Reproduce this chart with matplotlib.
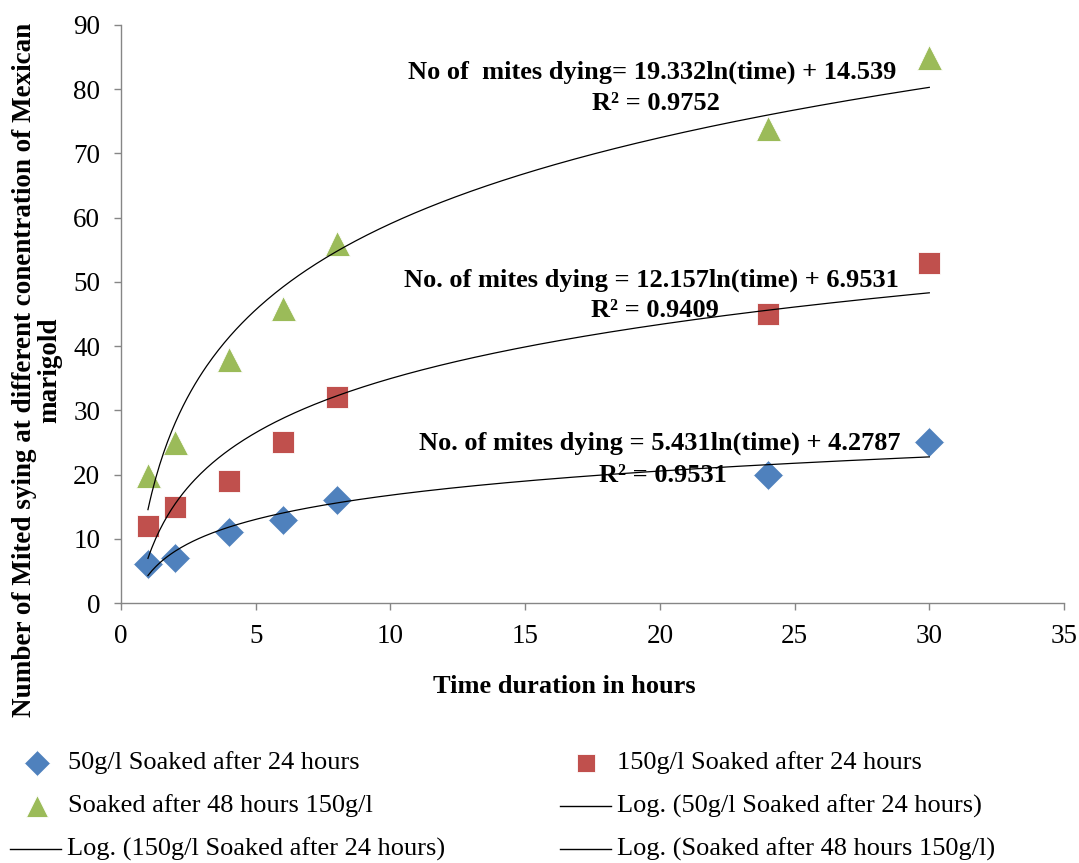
import numpy as np
import matplotlib
matplotlib.use("Agg")
import matplotlib.pyplot as plt
from matplotlib.lines import Line2D

# ---- data -------------------------------------------------------------
hours = [1, 2, 4, 6, 8, 24, 30]
soak50_24h = [6, 7, 11, 13, 16, 20, 25]
soak150_24h = [12, 15, 19, 25, 32, 45, 53]
soak150_48h = [20, 25, 38, 46, 56, 74, 85]

# logarithmic trend coefficients: y = a*ln(x) + b
fit50_24h = (5.431, 4.2787)
fit150_24h = (12.157, 6.9531)
fit150_48h = (19.332, 14.539)

r2_labels = ["R\u00b2 = 0.9531", "R\u00b2 = 0.9409", "R\u00b2 = 0.9752"]
eq_labels = [
    "No. of mites dying = 5.431ln(time) + 4.2787",
    "No. of mites dying = 12.157ln(time) + 6.9531",
    "No of  mites dying= 19.332ln(time) + 14.539",
]
series_names = [
    "50g/l Soaked after 24 hours",
    "150g/l Soaked after 24 hours",
    "Soaked after 48 hours 150g/l",
]
x_ticks = [0, 5, 10, 15, 20, 25, 30, 35]
y_ticks = [0, 10, 20, 30, 40, 50, 60, 70, 80, 90]

# ---- styling ----------------------------------------------------------
SERIF = "Liberation Serif"
W, H = 1079, 863
GRAY = "#868686"

styles = [
    dict(marker="D", color="#4F81BD", ms=15),
    dict(marker="s", color="#C0504D", ms=16),
    dict(marker="^", color="#9BBB59", ms=18),
]

fig = plt.figure(figsize=(W / 100, H / 100), dpi=100)
ax = fig.add_axes([121 / W, 1 - 603 / H, (1064 - 121) / W, (603 - 25) / H])

series = [soak50_24h, soak150_24h, soak150_48h]
fits = [fit50_24h, fit150_24h, fit150_48h]

# scatter points
for vals, st in zip(series, styles):
    ax.plot(hours, vals, linestyle="none", marker=st["marker"],
            markersize=st["ms"], markerfacecolor=st["color"],
            markeredgecolor="white", markeredgewidth=0.6, zorder=3)

# logarithmic trend lines
xs = np.linspace(min(hours), max(hours), 400)
for a, b in fits:
    ax.plot(xs, a * np.log(xs) + b, color="black", lw=0.9, zorder=4)

# equation annotations (data coordinates)
eq_pos = [((20.0, 24.9), (20.1, 19.9)),
          ((19.7, 50.3), (19.8, 45.6)),
          ((19.7, 82.7), (19.85, 77.7))]
for (pe, pr), eq, r2 in zip(eq_pos, eq_labels, r2_labels):
    ax.text(*pe, eq, ha="center", va="center", fontsize=19,
            fontweight="bold", family=SERIF, zorder=2)
    ax.text(*pr, r2, ha="center", va="center", fontsize=19,
            fontweight="bold", family=SERIF, zorder=2)

# axes appearance
ax.set_xlim(0, 35)
ax.set_ylim(0, 90)
ax.set_xticks(x_ticks)
ax.set_yticks(y_ticks)
for s in ("top", "right"):
    ax.spines[s].set_visible(False)
for s in ("left", "bottom"):
    ax.spines[s].set_color(GRAY)
    ax.spines[s].set_linewidth(1.0)
ax.tick_params(direction="out", length=5, width=1.0, color=GRAY,
               labelsize=19.5, pad=10)
for lab in ax.get_xticklabels() + ax.get_yticklabels():
    lab.set_family(SERIF)
ax.patch.set_alpha(0)

# axis titles
fig.text(564 / W, 1 - 686 / H, "Time duration in hours", ha="center",
         va="center", fontsize=19, fontweight="bold", family=SERIF)
fig.text(37 / W, 1 - 370 / H,
         "Number of Mited sying at different conentration of Mexican\nmarigold",
         rotation=90, ha="center", va="center", multialignment="center",
         fontsize=19.5, fontweight="bold", family=SERIF, linespacing=1.0)

# legend laid out in two columns beneath the plot
entries = [
    ("marker", 0, 37, 763, 68, series_names[0]),
    ("marker", 1, 586, 763, 617, series_names[1]),
    ("marker", 2, 37, 806, 68, series_names[2]),
    ("line", None, 35, 806, 617, "Log. (" + series_names[0] + ")"),
    ("line", None, 35, 849, 67, "Log. (" + series_names[1] + ")"),
    ("line", None, 35, 849, 617, "Log. (" + series_names[2] + ")"),
]
for kind, idx, hx, hy, tx, label in entries:
    if kind == "marker":
        st = styles[idx]
        fig.add_artist(Line2D([hx / W], [1 - hy / H], linestyle="none",
                              marker=st["marker"], markersize=st["ms"] * 0.85,
                              markerfacecolor=st["color"],
                              markeredgecolor="white", markeredgewidth=0.6))
    else:
        x0 = tx - 57
        fig.add_artist(Line2D([x0 / W, (tx - 6) / W], [1 - hy / H] * 2,
                              color="black", lw=1.0))
    fig.text(tx / W, 1 - hy / H, label, ha="left", va="center",
             fontsize=19, family=SERIF)

fig.savefig("out.png", dpi=100)
